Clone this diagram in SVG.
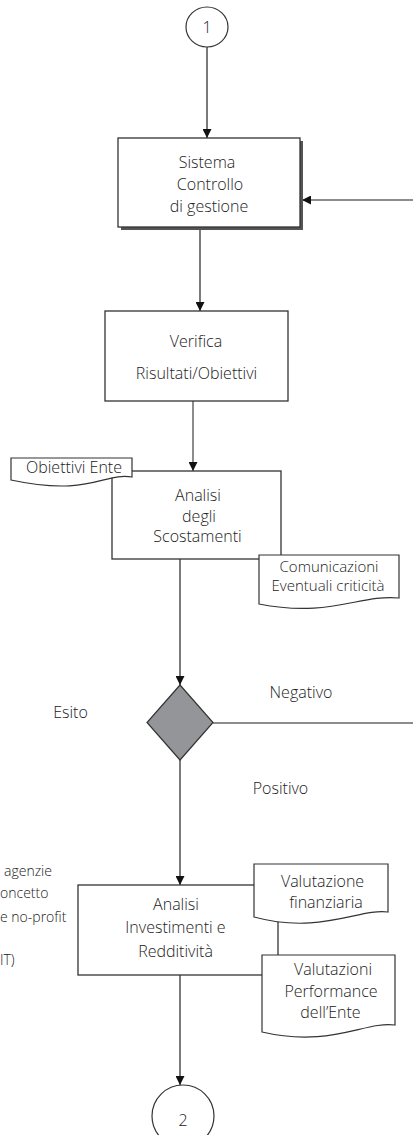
<svg xmlns="http://www.w3.org/2000/svg" width="413" height="1135" viewBox="0 0 413 1135">
<defs>
<style>
.t{font-family:"Open Sans","Liberation Sans",sans-serif;font-size:16px;font-weight:300;fill:#222;text-anchor:middle}
.tc{font-size:15px}
.ts{font-family:"Open Sans","Liberation Sans",sans-serif;font-size:14px;font-weight:300;fill:#222}
.box{fill:#fff;stroke:#333;stroke-width:1.3}
.doc{fill:#fff;stroke:#333;stroke-width:1.2}
.ln{stroke:#222;stroke-width:1.2;fill:none}
.lg{stroke:#666;stroke-width:1.5;fill:none}
</style>
<marker id="ah" viewBox="0 0 10 10" refX="10" refY="5" markerWidth="9" markerHeight="9" markerUnits="userSpaceOnUse" orient="auto">
<path d="M0,0 L10,5 L0,10 Z" fill="#111"/>
</marker>
</defs>
<rect width="413" height="1135" fill="#fff"/>
<g id="connectors">
<line class="ln" x1="207" y1="47" x2="207" y2="138" marker-end="url(#ah)"/>
<line class="lg" x1="413" y1="200" x2="302" y2="200" marker-end="url(#ah)"/>
<line class="ln" x1="200" y1="230" x2="200" y2="311" marker-end="url(#ah)"/>
<line class="lg" x1="193" y1="401" x2="193" y2="471" marker-end="url(#ah)"/>
<line class="ln" x1="180" y1="559" x2="180" y2="685" marker-end="url(#ah)"/>
<line class="lg" x1="213" y1="723" x2="413" y2="723"/>
<line class="ln" x1="180" y1="760" x2="180" y2="885" marker-end="url(#ah)"/>
<line class="ln" x1="180" y1="975" x2="180" y2="1085" marker-end="url(#ah)"/>
<line class="ln" x1="274" y1="925" x2="274" y2="955"/>
</g>
<g id="start">
<ellipse cx="207" cy="27" rx="21" ry="20" fill="#fff" stroke="#333" stroke-width="1.2"/>
<text class="t" x="207" y="33">1</text>
</g>
<g id="sistema">
<rect x="121" y="141" width="182" height="89" fill="#555"/>
<rect class="box" x="118" y="138" width="182" height="89"/>
<text class="t" x="207" y="168">Sistema</text>
<text class="t" x="210" y="190">Controllo</text>
<text class="t" x="209" y="212">di gestione</text>
</g>
<g id="verifica">
<rect class="box" x="105" y="311" width="183" height="90"/>
<text class="t" x="196" y="347">Verifica</text>
<text class="t" x="196.5" y="379">Risultati/Obiettivi</text>
</g>
<g id="analisi-scostamenti">
<rect class="box" x="112" y="471" width="169" height="88"/>
<text class="t" x="198" y="501">Analisi</text>
<text class="t" x="199" y="522">degli</text>
<text class="t" x="197.5" y="542">Scostamenti</text>
</g>
<g id="obiettivi-ente">
<path class="doc" d="M11,458 H132 V477 C105,472 90,497 11,480 Z"/>
<text class="t" x="74" y="473">Obiettivi Ente</text>
</g>
<g id="comunicazioni">
<path class="doc" d="M259,555 H399 V598 C360,594 330,618 259,604 Z"/>
<text class="t tc" x="329" y="572">Comunicazioni</text>
<text class="t tc" x="328" y="591">Eventuali criticità</text>
</g>
<g id="esito">
<path d="M180,685 L213,722.5 L180,760 L147,722.5 Z" fill="#939598" stroke="#333" stroke-width="1.2"/>
</g>
<g id="labels">
<text class="t" x="70.5" y="718">Esito</text>
<text class="t" x="301" y="698">Negativo</text>
<text class="t" x="280.5" y="794">Positivo</text>
<text class="ts" x="4" y="876">agenzie</text>
<text class="ts" x="0" y="898">oncetto</text>
<text class="ts" x="0" y="922">e no-profit</text>
<text class="ts" x="0" y="965">IT)</text>
</g>
<g id="analisi-investimenti">
<rect class="box" x="78" y="885" width="200" height="90"/>
<text class="t" x="176" y="910">Analisi</text>
<text class="t" x="175.5" y="933">Investimenti e</text>
<text class="t" x="175.5" y="957">Redditività</text>
</g>
<g id="valutazione-finanziaria">
<path class="doc" d="M254,864 H388 V912 C360,908 320,935 254,917 Z"/>
<text class="t" x="322.5" y="887">Valutazione</text>
<text class="t" x="326" y="908">finanziaria</text>
</g>
<g id="valutazioni-performance">
<path class="doc" d="M262,955 H395 V1025 C365,1021 330,1048 262,1032 Z"/>
<text class="t" x="333" y="975">Valutazioni</text>
<text class="t" x="331" y="997">Performance</text>
<text class="t" x="330.5" y="1018">dell’Ente</text>
</g>
<g id="end">
<ellipse cx="183" cy="1116" rx="31" ry="31" fill="#fff" stroke="#333" stroke-width="1.2"/>
<text class="t" x="183" y="1126">2</text>
</g>
</svg>
